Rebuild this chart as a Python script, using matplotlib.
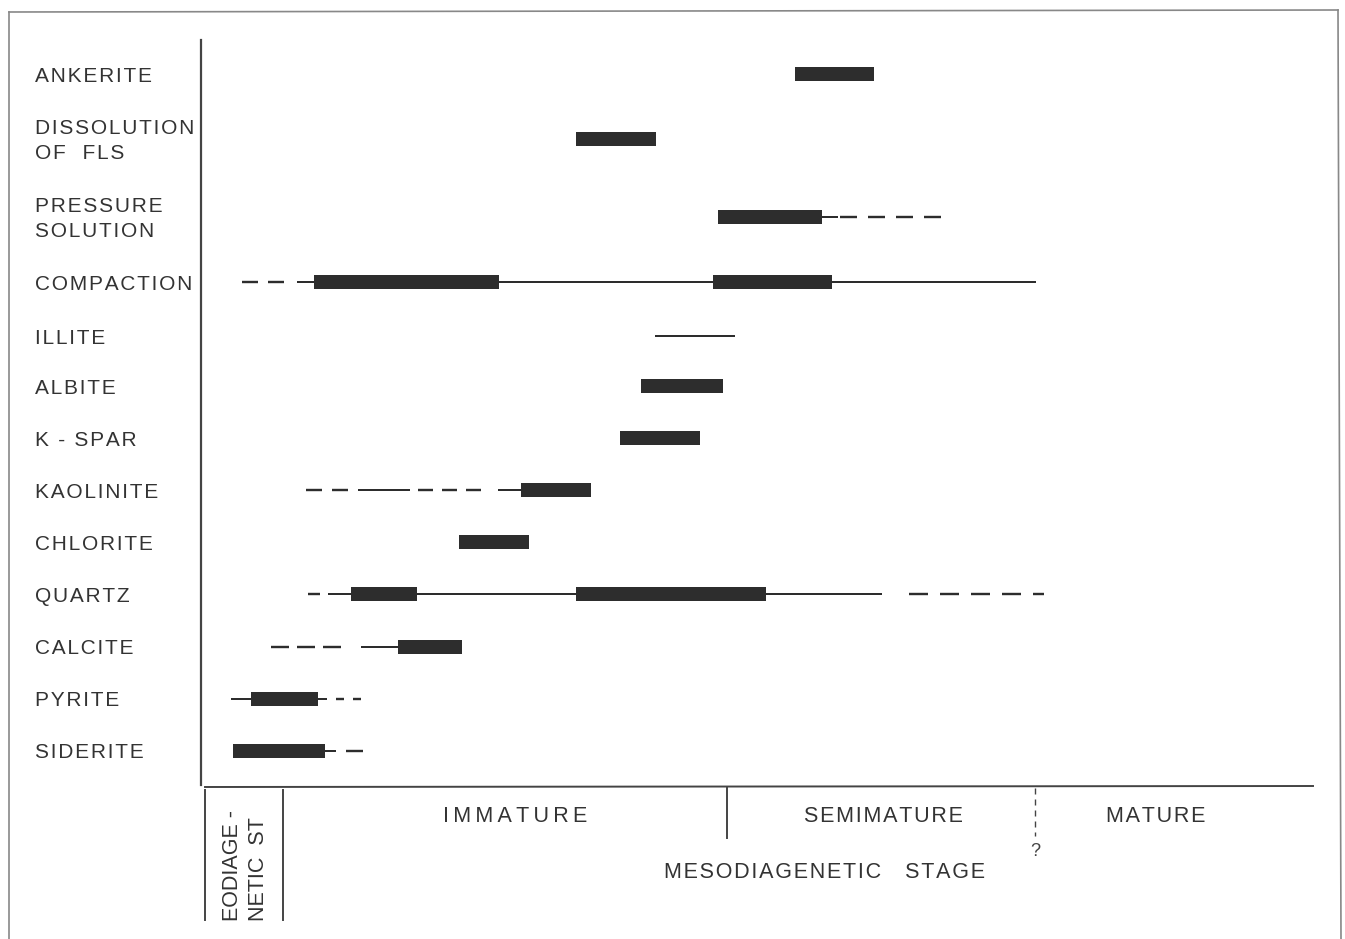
import matplotlib.pyplot as plt

plt.rcParams['font.family'] = ['Liberation Sans', 'DejaVu Sans']
plt.rcParams['lines.scale_dashes'] = False

processes = ["ANKERITE", "DISSOLUTION\nOF  FLS", "PRESSURE\nSOLUTION", "COMPACTION",
             "ILLITE", "ALBITE", "K - SPAR", "KAOLINITE", "CHLORITE", "QUARTZ",
             "CALCITE", "PYRITE", "SIDERITE"]
row_y = [74, 139, 217, 282, 336, 386, 438, 490, 542, 594, 647, 699, 751]

# main phases (thick bars), start / end on the relative burial scale
bars = [
    [(795, 874)],
    [(576, 656)],
    [(718, 822)],
    [(314, 499), (713, 832)],
    [],
    [(641, 723)],
    [(620, 700)],
    [(521, 591)],
    [(459, 529)],
    [(351, 417), (576, 766)],
    [(398, 462)],
    [(251, 318)],
    [(233, 325)],
]
# minor phases (thin solid line)
solid = [
    [],
    [],
    [(822, 838)],
    [(297, 314), (499, 713), (832, 1036)],
    [(655, 735)],
    [],
    [],
    [(358, 410), (498, 521)],
    [],
    [(328, 351), (417, 576), (766, 882)],
    [(361, 398)],
    [(231, 251), (318, 327)],
    [(325, 336)],
]
# uncertain (dashed): start, end, dash, gap
dashed = [
    [],
    [],
    [(840, 950, 17, 11)],
    [(242, 284, 16, 10)],
    [],
    [],
    [],
    [(306, 348, 16, 10), (418, 483, 15, 9)],
    [],
    [(308, 320, 12, 8), (909, 1044, 19, 12)],
    [(271, 345, 18, 8)],
    [(336, 363, 8, 9)],
    [(346, 363, 17, 5)],
]

stages = ["IMMATURE", "SEMIMATURE", "MATURE"]
stage_x = [515, 883, 1156]
stage_bounds = [283, 727, 1035]


def spaced(s, sp):
    # loose letter spacing like the original lettering
    out = []
    for line in s.split("\n"):
        out.append(sp.join(line))
    return "\n".join(out)


HAIR = "\u200a"
THIN = "\u2009"
stage_spacing = [THIN, HAIR, HAIR]

fig = plt.figure(figsize=(13.45, 9.39), dpi=100)
ax = fig.add_axes([0, 0, 1, 1])
ax.set_xlim(0, 1345)
ax.set_ylim(939, 0)
ax.axis('off')

ink = '#2d2d2d'
txt = '#333333'
px = 0.72  # points per pixel

# outer frame
ax.plot([9, 9], [12, 939], color='#888888', lw=1.2)
ax.plot([9, 1338], [12, 10], color='#888888', lw=1.2)
ax.plot([1338, 1341], [10, 939], color='#888888', lw=1.2)

# axes of the diagram
ax.plot([201, 201], [40, 785], color='#444444', lw=1.6)
ax.plot([205, 1313], [787, 786], color='#444444', lw=1.4)

for i, name in enumerate(processes):
    y = row_y[i]
    ax.text(35, y + 2, spaced(name, HAIR), fontsize=15, color=txt, va='center',
            ha='left', linespacing=1.4)
    for s, e in bars[i]:
        ax.barh(y, e - s, left=s, height=14, color=ink, edgecolor='none')
    for s, e in solid[i]:
        ax.plot([s, e], [y, y], color=ink, lw=2 * px, solid_capstyle='butt')
    for s, e, d, g in dashed[i]:
        ax.plot([s, e], [y, y], color=ink, lw=2.4 * px,
                linestyle=(0, (d * px, g * px)), dash_capstyle='butt')

# stage boxes at the bottom
ax.plot([205, 205], [790, 920], color='#444444', lw=1.4)
ax.plot([stage_bounds[0]] * 2, [790, 920], color='#444444', lw=1.4)
ax.plot([stage_bounds[1]] * 2, [788, 838], color='#444444', lw=1.4)
ax.plot([stage_bounds[2]] * 2, [788, 836], color='#444444', lw=1.0,
        linestyle=(0, (6 * px, 5 * px)))
ax.text(stage_bounds[2], 852, "?", fontsize=13, color='#444444', ha='center', va='center')

for name, x, sp in zip(stages, stage_x, stage_spacing):
    ax.text(x, 817, spaced(name, sp), fontsize=15.5, color=txt, ha='center', va='center')
ax.text(825, 873, spaced("MESODIAGENETIC", HAIR) + "    " + spaced("STAGE", HAIR),
        fontsize=15.5, color=txt, ha='center', va='center')

ax.text(233, 921, "EODIAGE -", fontsize=15.5, color=txt, rotation=90,
        ha='center', va='bottom')
ax.text(259, 921, "NETIC  ST", fontsize=15.5, color=txt, rotation=90,
        ha='center', va='bottom')

fig.savefig("out.png", dpi=100)
